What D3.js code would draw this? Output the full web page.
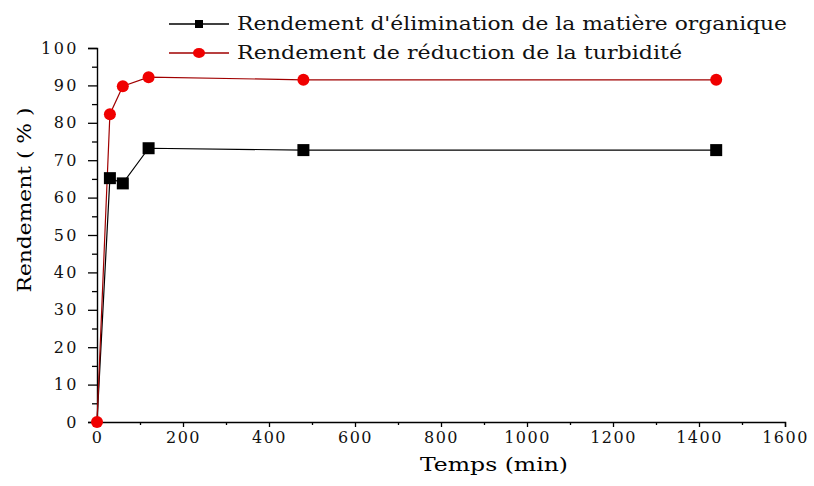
<!DOCTYPE html>
<html><head><meta charset="utf-8">
<script src="https://cdn.jsdelivr.net/npm/d3@7"></script>
<style>body{margin:0;background:#fff}</style>
</head><body>
<svg id="c" width="814" height="486"></svg>
<script>
const times = [0, 30, 60, 120, 480, 1440];
const organique = [0, 65.2, 63.8, 73.2, 72.7, 72.7];
const turbidite = [0, 82.3, 89.8, 92.2, 91.5, 91.5];
const xTicks = [0,200,400,600,800,1000,1200,1400,1600];
const yTicks = [0,10,20,30,40,50,60,70,80,90,100];
const legendLabels = ["Rendement d'élimination de la matière organique","Rendement de réduction de la turbidité"];

const svg = d3.select("#c");
const x = d3.scaleLinear().domain([0,1600]).range([97,785]);
const y = d3.scaleLinear().domain([0,100]).range([422,48]);
const serif = "DejaVu Serif";

// axes
const xa = svg.append("g").attr("transform","translate(0,422)")
  .call(d3.axisBottom(x).tickValues(xTicks).tickSize(5).tickPadding(5).tickFormat(d3.format("d")));
const xm = svg.append("g").attr("transform","translate(0,422)")
  .call(d3.axisBottom(x).tickValues(d3.range(100,1600,200)).tickSize(3).tickFormat(""));
const ya = svg.append("g").attr("transform","translate(97,0)")
  .call(d3.axisLeft(y).tickValues(yTicks).tickSize(9).tickPadding(9));
const ym = svg.append("g").attr("transform","translate(97,0)")
  .call(d3.axisLeft(y).tickValues(d3.range(5,100,10)).tickSize(5).tickFormat(""));
[xa,xm,ya,ym].forEach(g=>{g.attr("font-family",serif);g.selectAll("path").attr("stroke","#000").attr("stroke-width",1.4);g.selectAll("line").attr("stroke","#000").attr("stroke-width",1.3);});
xm.select("path").remove(); ym.select("path").remove();
xa.selectAll("text").attr("font-family",serif).attr("font-size",16).attr("letter-spacing",1.5).attr("fill","#111");
ya.selectAll("text").attr("font-family",serif).attr("font-size",16).attr("letter-spacing",2.5).attr("fill","#111");

// titles
svg.append("text").attr("x",494).attr("y",471).attr("text-anchor","middle")
  .attr("font-family",serif).attr("font-size",18).attr("textLength",148).attr("lengthAdjust","spacingAndGlyphs").text("Temps (min)");
svg.append("text").attr("transform","translate(31,200) rotate(-90)").attr("text-anchor","middle")
  .attr("font-family",serif).attr("font-size",18).attr("textLength",185).attr("lengthAdjust","spacingAndGlyphs").text("Rendement ( % )");

const line = d3.line().x(d=>x(d[0])).y(d=>y(d[1]));
const s1 = times.map((t,i)=>[t,organique[i]]);
const s2 = times.map((t,i)=>[t,turbidite[i]]);

svg.append("path").datum(s1).attr("d",line).attr("fill","none").attr("stroke","#000").attr("stroke-width",1.2);
svg.append("path").datum(s2).attr("d",line).attr("fill","none").attr("stroke","#a00000").attr("stroke-width",1.2);

svg.selectAll(".sq").data(s1.slice(1)).enter().append("rect")
  .attr("x",d=>x(d[0])-6).attr("y",d=>y(d[1])-6).attr("width",12).attr("height",12).attr("fill","#000");
svg.selectAll(".ci").data(s2).enter().append("circle")
  .attr("cx",d=>x(d[0])).attr("cy",d=>y(d[1])).attr("r",6).attr("fill","#f00000");

// legend
const lg = [{y:24,c:"#000",m:"sq",w:550},{y:53,c:"#a00000",m:"ci",w:445}];
lg.forEach((l,i)=>{
  svg.append("line").attr("x1",169).attr("x2",229).attr("y1",l.y).attr("y2",l.y).attr("stroke",l.c).attr("stroke-width",1.3);
  if(l.m==="sq") svg.append("rect").attr("x",195).attr("y",l.y-4).attr("width",8).attr("height",8).attr("fill","#000");
  else svg.append("ellipse").attr("cx",199).attr("cy",l.y).attr("rx",6).attr("ry",5).attr("fill","#f00000");
  svg.append("text").attr("x",237).attr("y",l.y+6).attr("font-family",serif).attr("font-size",19).attr("fill","#111")
    .attr("textLength",l.w).attr("lengthAdjust","spacingAndGlyphs").text(legendLabels[i]);
});
</script>
</body></html>
